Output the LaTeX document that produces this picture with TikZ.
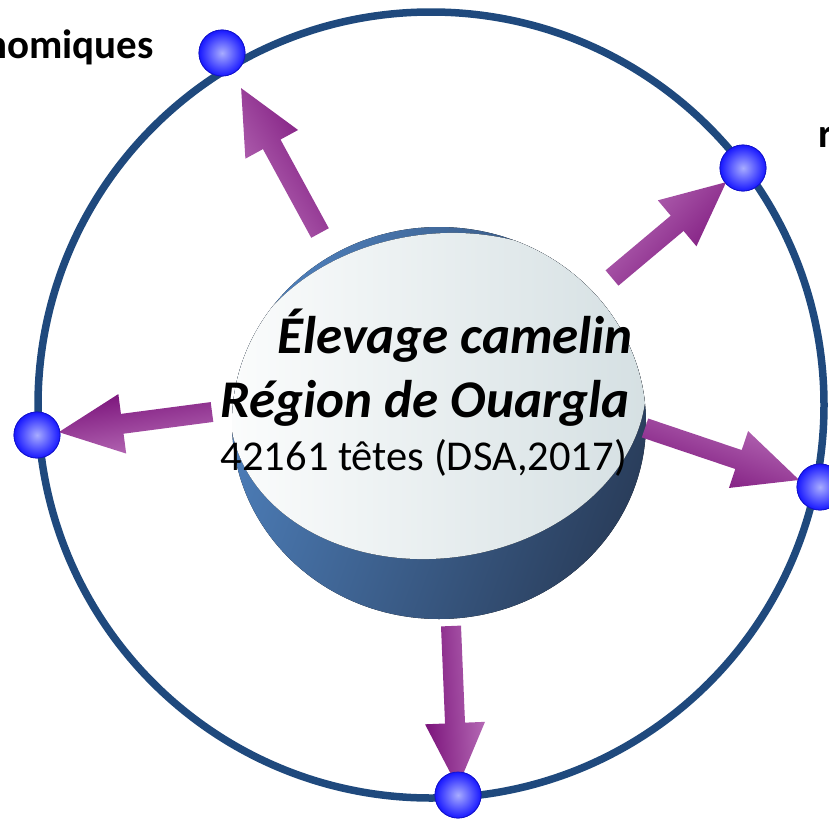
\documentclass[tikz,border=0pt]{standalone}
\usepackage{fontspec}
\setmainfont{Carlito}
\usetikzlibrary{calc, positioning}
\definecolor{anneaubleu}{RGB}{31,73,125}
\definecolor{sphereclair}{RGB}{78,128,188}
\definecolor{spheresombre}{RGB}{42,62,92}
\definecolor{disqueclair}{RGB}{252,253,253}
\definecolor{disquesombre}{RGB}{212,223,226}
\definecolor{violetclair}{RGB}{184,110,184}
\definecolor{violetsombre}{RGB}{122,18,122}
\definecolor{bouleclair}{RGB}{168,172,255}
\definecolor{boulebleu}{RGB}{24,24,255}
% block arrow: tail coordinate, ball node, gap before the ball, shading angle
\newcommand{\fleche}[4]{%
	\coordinate (pointe) at ($(#2)!#3!(#1)$);
	\coordinate (cou) at ($(pointe)!64pt!(#1)$);
	\path[fleche, shading angle=#4]
		($(#1)!10pt!90:(pointe)$) -- ($(cou)!10pt!90:(pointe)$)
		-- ($(cou)!30pt!90:(pointe)$) -- (pointe)
		-- ($(cou)!30pt!-90:(pointe)$) -- ($(cou)!10pt!-90:(pointe)$)
		-- ($(#1)!10pt!-90:(pointe)$) -- cycle;
}

\begin{document}
\begin{tikzpicture}[
				x=1pt, y=-1pt,
				anneau/.style={draw=anneaubleu, line width=7.5pt},
				sphere/.style={left color=sphereclair, right color=spheresombre, shading angle=70},
				disque/.style={left color=disqueclair, right color=disquesombre},
				fleche/.style={left color=violetclair, right color=violetsombre},
				boule/.style={circle, minimum size=46pt, inner sep=0pt, draw=boulebleu!80!black, line width=0.8pt, inner color=bouleclair, outer color=boulebleu},
				titre/.style={inner sep=0pt, font=\fontsize{53}{60}\selectfont\bfseries\itshape},
				chiffre/.style={inner sep=0pt, font=\fontsize{42.5}{48}\selectfont},
				legende/.style={inner sep=0pt, font=\fontsize{41}{48}\selectfont\bfseries}]
			
			\useasboundingbox (0,0) rectangle (829,819);
			
			% outer ring
			\coordinate (centre) at (431,405);
			\draw[anneau] (centre) circle [radius=393pt];
			
			% central sphere
			\coordinate (hub) at (439,423);
			\fill[sphere] (hub) ellipse [x radius=207pt, y radius=196pt];
			\begin{scope}
				\clip (hub) ellipse [x radius=207pt, y radius=196pt];
				\fill[disque, rotate around={8:(438,396)}] (438,396) ellipse [x radius=209pt, y radius=162pt];
			\end{scope}
			
			% tails of the arrows
			\coordinate (queue1) at (320,233);
			\coordinate (queue2) at (612,278);
			\coordinate (queue3) at (212,412);
			\coordinate (queue4) at (645,428);
			\coordinate (queue5) at (451,626);
			
			% balls on the ring
			\node[boule] (b1) at (222,53) {};
			\node[boule] (b2) at (743,168) {};
			\node[boule] (b3) at (37,435) {};
			\node[boule] (b4) at (820,487) {};
			\node[boule] (b5) at (458,795) {};
			
			\fleche{queue1}{b1}{40pt}{121}
			\fleche{queue2}{b2}{22pt}{48}
			\fleche{queue3}{b3}{22pt}{189}
			\fleche{queue4}{b4}{22pt}{-20}
			\fleche{queue5}{b5}{8pt}{-87}
			
			% balls again, over the arrow tips
			\foreach \b in {b1,b2,b3,b4,b5}
				\node[boule] at (\b) {};
			
			\node[titre, anchor=base east] (ligne1) at (633,353) {Élevage camelin};
			\node[titre, anchor=base east] (ligne2) at (630,417) {Région de Ouargla};
			\node[chiffre, anchor=base east] (ligne3) at (627,470) {42161 têtes (DSA,2017)};
			
			\node[legende, anchor=base east] (gauche) at (154,58) {nomiques};
			\node[legende, anchor=base west] (droite) at (818,147) {r};
			
		\end{tikzpicture}
\end{document}
